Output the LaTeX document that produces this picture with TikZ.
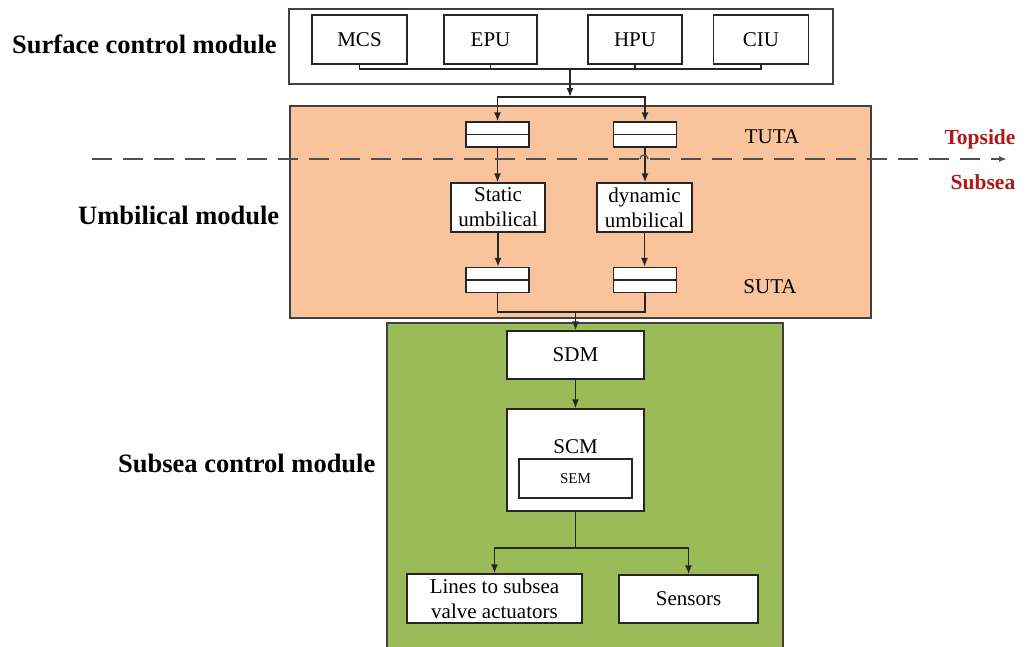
\documentclass[tikz,border=0pt]{standalone}
\usepackage{fontspec}
\setmainfont{Liberation Serif}
\usetikzlibrary{arrows.meta}
\definecolor{umbfill}{HTML}{F9C49B}
\definecolor{seafill}{HTML}{9BBB59}
\definecolor{framec}{HTML}{404040}
\definecolor{sidered}{HTML}{B01818}
\definecolor{dashc}{HTML}{505050}
\tikzset{
  module/.style={draw=framec, line width=1.7pt},
  unit/.style={draw=black!85, line width=1.4pt, fill=white, inner sep=0pt,
    font=\fontsize{21}{25}\selectfont, align=center},
  jbox/.style={draw=black!85, line width=1.4pt, fill=white, inner sep=0pt,
    minimum width=63pt, minimum height=25pt},
  modlabel/.style={font=\fontsize{26.5}{30}\selectfont\bfseries, anchor=west, inner sep=0pt},
  sidelabel/.style={font=\fontsize{21.5}{25}\selectfont\bfseries, text=sidered, inner sep=0pt},
  plain/.style={font=\fontsize{21}{25}\selectfont, inner sep=0pt},
  wire/.style={draw=black!85, line width=1.4pt},
  arr/.style={wire, -{Latex[length=9pt,width=7pt]}},
}
\begin{document}
\begin{tikzpicture}[x=1pt,y=-1pt]
\clip (0,0) rectangle (1028,646);
\fill[white] (0,0) rectangle (1028,646);

% module frames
\draw[module] (289,9) rectangle (833,84);
\draw[module, fill=umbfill] (290,106) rectangle (871,318);
\draw[module, fill=seafill] (387,323) rectangle (783,670);

% module titles
\node[modlabel] (tsurf) at (12,44) {Surface control module};
\node[modlabel] (tumb) at (78,215) {Umbilical module};
\node[modlabel] (tsea) at (118,463) {Subsea control module};

% surface units
\node[unit, minimum width=95pt, minimum height=49pt] (MCS) at (359.5,39.5) {MCS};
\node[unit, minimum width=93pt, minimum height=49pt] (EPU) at (490.5,39.5) {EPU};
\node[unit, minimum width=94pt, minimum height=49pt] (HPU) at (635,39.5) {HPU};
\node[unit, minimum width=95pt, minimum height=49pt] (CIU) at (761,39.5) {CIU};

\coordinate (bus) at (570,69);
\coordinate (split) at (570,97);
\draw[wire] (MCS.south) -- (MCS.south |- bus) -- (CIU.south |- bus) -- (CIU.south);
\draw[wire] (EPU.south) -- (EPU.south |- bus);
\draw[wire] (HPU.south) -- (HPU.south |- bus);
\draw[arr] (bus) -- (split);

% topside umbilical termination assemblies
\node[jbox] (TUTAL) at (497.5,134.5) {};
\node[jbox] (TUTAR) at (645,134.5) {};
\draw[wire] (TUTAL.west) -- (TUTAL.east);
\draw[wire] (TUTAR.west) -- (TUTAR.east);
\draw[arr] (split) -| (TUTAL.north);
\draw[arr] (split) -| (TUTAR.north);
\node[plain] (tuta) at (772,137) {TUTA};

% umbilicals
\node[unit, minimum width=94pt, minimum height=49pt] (stat) at (498,207.5) {Static\\umbilical};
\node[unit, minimum width=95pt, minimum height=49pt] (dyn) at (644.5,207.5) {dynamic\\umbilical};
\draw[arr] (TUTAL.south) -- (TUTAL.south |- stat.north);
\draw[arr] (TUTAR.south) -- (TUTAR.south |- dyn.north);

% subsea umbilical termination assemblies
\node[jbox] (SUTAL) at (497.5,280) {};
\node[jbox] (SUTAR) at (645,280) {};
\draw[wire] (SUTAL.west) -- (SUTAL.east);
\draw[wire] (SUTAR.west) -- (SUTAR.east);
\draw[arr] (stat.south) -- (stat.south |- SUTAL.north);
\draw[arr] (dyn.south) -- (dyn.south |- SUTAR.north);
\node[plain] (suta) at (770,287) {SUTA};

% topside / subsea boundary
\coordinate (bL) at (92,159);
\coordinate (bR) at (1007,159);
\draw[dashc, line width=1.6pt, dash pattern=on 20pt off 11pt, -{Latex[length=8pt,width=6pt]}] (bL) -- (bR);
\draw[dashc, line width=1.2pt] (640,159) arc[start angle=180, end angle=360, radius=4];
\node[sidelabel] (top) at (980,139) {Topside};
\node[sidelabel] (sub) at (983,182) {Subsea};

% subsea distribution
\node[unit, minimum width=137pt, minimum height=48pt] (SDM) at (575.5,355) {SDM};
\coordinate (join) at (575.5,312);
\draw[wire] (SUTAL.south) |- (join);
\draw[wire] (SUTAR.south) |- (join);
\draw[arr] (join) -- (SDM.north);

\node[unit, minimum width=137pt, minimum height=102pt] (SCM) at (575.5,460) {};
\node[plain] (scmtxt) at (575.5,447) {SCM};
\node[unit, minimum width=113pt, minimum height=39pt, font=\fontsize{15}{18}\selectfont] (SEM) at (575.5,478.5) {SEM};
\draw[arr] (SDM.south) -- (SCM.north);

\node[unit, minimum width=175pt, minimum height=49pt] (lines) at (494.5,598.5) {Lines to subsea\\valve actuators};
\node[unit, minimum width=139pt, minimum height=48pt] (sens) at (688.5,599) {Sensors};
\coordinate (fork) at (575.5,548);
\draw[wire] (SCM.south) -- (fork);
\draw[arr] (fork) -| (lines.north);
\draw[arr] (fork) -| (sens.north);
\end{tikzpicture}
\end{document}
